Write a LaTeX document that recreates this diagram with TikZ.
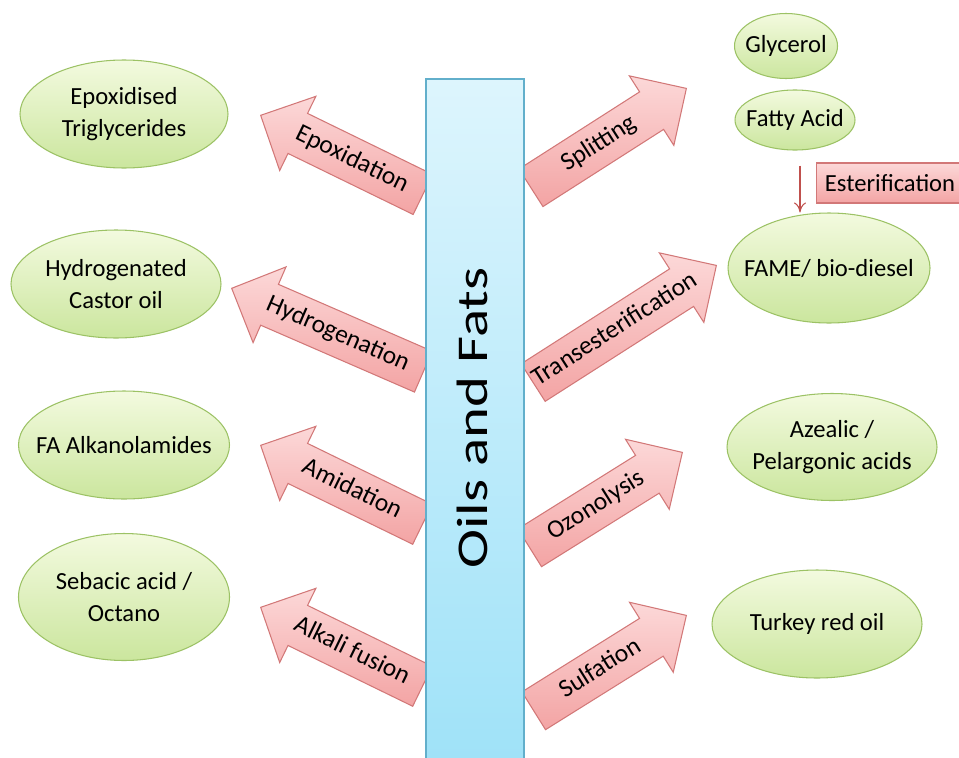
\documentclass[tikz,border=0pt]{standalone}
\usepackage{fontspec}
\setmainfont{Carlito}
\usetikzlibrary{shapes.geometric,shapes.arrows,arrows.meta}

\definecolor{leaftop}{HTML}{F3FADF}
\definecolor{leafbot}{HTML}{CBE69E}
\definecolor{leafline}{HTML}{9CC265}
\definecolor{rosetop}{HTML}{FCD8D8}
\definecolor{rosebot}{HTML}{F3A4A4}
\definecolor{roseline}{HTML}{D27878}
\definecolor{skytop}{HTML}{DDF5FD}
\definecolor{skybot}{HTML}{9FE2F8}
\definecolor{skyline}{HTML}{62AFCB}
\definecolor{esterred}{HTML}{C0504D}

\begin{document}
\begin{tikzpicture}[
	product/.style={ellipse,draw=leafline,line width=0.6pt,top color=leaftop,bottom color=leafbot,inner xsep=-5mm,inner ysep=0pt,align=center,font=\fontsize{14}{18}\selectfont},
	process/.style={single arrow,draw=roseline,line width=0.6pt,top color=rosetop,bottom color=rosebot,font=\fontsize{14.5}{17}\selectfont,text height=0.35cm,text depth=0.1cm,inner xsep=0pt,inner ysep=0.21cm,single arrow head extend=0.38cm,anchor=tip},
	toleft/.style={shape border rotate=180},
	column/.style={rectangle,draw=skyline,line width=0.7pt,top color=skytop,bottom color=skybot},
	esterbox/.style={rectangle,draw=roseline,line width=0.6pt,top color=rosetop,bottom color=rosebot,font=\fontsize{14}{16}\selectfont}
	]
	\useasboundingbox (0,0) rectangle (19.18,15.14);
	% products on the left
	\node[product,minimum width=4.16cm,minimum height=2.16cm] (epoxtg) at (2.48,12.86) {Epoxidised\\Triglycerides};
	\node[product,minimum width=4.2cm,minimum height=2.16cm] (castor) at (2.32,9.46) {Hydrogenated\\Castor oil};
	\node[product,minimum width=4.22cm,minimum height=2.16cm] (alkanol) at (2.48,6.24) {FA Alkanolamides};
	\node[product,minimum width=4.22cm,minimum height=2.54cm] (sebacic) at (2.48,3.20) {Sebacic acid /\\Octano};
	% products on the right
	\node[product,minimum width=2.06cm,minimum height=1.3cm] (glycerol) at (15.72,14.22) {Glycerol};
	\node[product,minimum width=2.4cm,minimum height=1.2cm] (fatacid) at (15.90,12.74) {Fatty Acid};
	\node[product,minimum width=4.04cm,minimum height=2.2cm] (fame) at (16.58,9.78) {FAME/ bio-diesel};
	\node[product,minimum width=4.2cm,minimum height=2.14cm] (azelaic) at (16.64,6.20) {Azealic /\\Pelargonic acids};
	\node[product,minimum width=4.2cm,minimum height=2.16cm] (turkey) at (16.34,2.66) {Turkey red oil};
	% processes
	\node[process,toleft,rotate=-26,minimum height=3.61cm] (epoxid) at (5.20,12.84) {Epoxidation};
	\node[process,toleft,rotate=-23.5,minimum height=4.18cm] (hydrog) at (4.62,9.38) {Hydrogenation};
	\node[process,toleft,rotate=-26,minimum height=3.6cm] (amid) at (5.20,6.24) {Amidation};
	\node[process,toleft,rotate=-26,minimum height=3.6cm] (alkali) at (5.20,3.00) {Alkali fusion};
	\node[process,rotate=32.6,minimum height=3.69cm] (split) at (13.74,13.38) {Splitting};
	\node[process,rotate=32.6,minimum height=4.35cm,inner xsep=-3mm] (transest) at (14.34,9.84) {Transesterification};
	\node[process,rotate=32,minimum height=3.6cm] (ozon) at (13.66,6.10) {Ozonolysis};
	\node[process,rotate=32,minimum height=3.6cm] (sulf) at (13.74,2.84) {Sulfation};
	% oils and fats
	\node[column,minimum width=1.96cm,minimum height=13.76cm] (oils) at (9.50,6.68) {};
	\node[rotate=90,font=\fontsize{25}{30}\selectfont] (oilstext) at (9.44,6.78) {\scalebox{1.34}[1]{Oils and Fats}};
	% esterification
	\node[esterbox,anchor=west,minimum width=2.94cm,minimum height=0.8cm] (ester) at (16.32,11.48) {Esterification};
	\draw[esterred,line width=0.6pt,-{To[length=2mm,width=2.4mm]}] ([xshift=1mm,yshift=-3mm]fatacid.south) -- ([xshift=1mm]fatacid.south |- fame.north);
\end{tikzpicture}
\end{document}
